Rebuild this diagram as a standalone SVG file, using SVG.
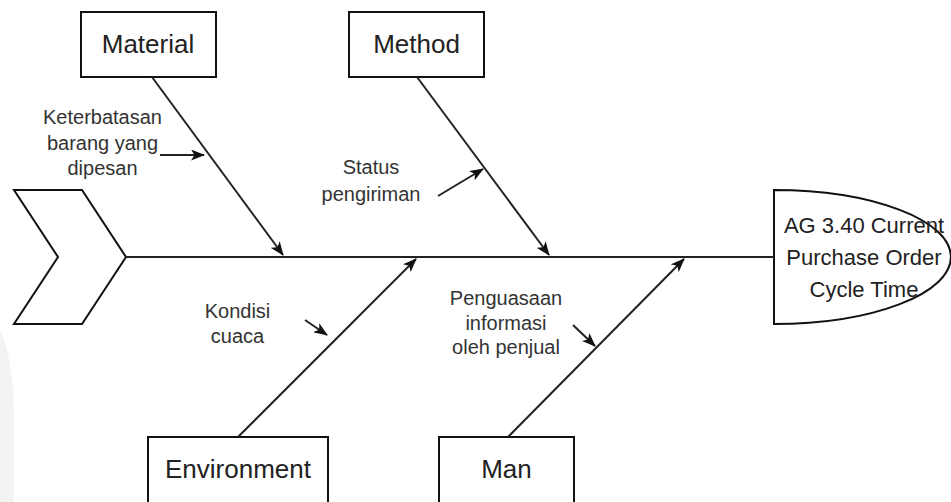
<svg xmlns="http://www.w3.org/2000/svg" width="951" height="502" viewBox="0 0 951 502">
<defs>
<style>
.box{fill:#fff;stroke:#111;stroke-width:2}
.ln{fill:none;stroke:#222;stroke-width:2}
.big{font-family:"Liberation Sans",Arial,sans-serif;font-size:26px;fill:#222;text-anchor:middle}
.mid{font-family:"Liberation Sans",Arial,sans-serif;font-size:22px;fill:#222;text-anchor:middle}
.sm{font-family:"Liberation Sans",Arial,sans-serif;font-size:20px;fill:#333;text-anchor:middle}
</style>
<marker id="ah" viewBox="0 0 14 11" refX="13" refY="5.5" markerWidth="14" markerHeight="11" markerUnits="userSpaceOnUse" orient="auto">
<path d="M0,0 L14,5.5 L0,11 L3.5,5.5 Z" fill="#111"/>
</marker>
</defs>
<rect width="951" height="502" fill="#fff"/>
<path d="M0,330 Q14,360 14,420 L14,502 L0,502 Z" fill="#f3f3f3"/>
<g id="tail">
<polygon class="box" points="14,190 82,190 126,257 82,324 14,324 58,257"/>
</g>
<g id="head">
<path class="box" d="M774,190 A177,67 0 0 1 774,324 Z"/>
<text class="mid" x="864" y="233">AG 3.40 Current</text>
<text class="mid" x="864" y="265">Purchase Order</text>
<text class="mid" x="864" y="297">Cycle Time</text>
</g>
<g id="material">
<rect class="box" x="81" y="12" width="135" height="65"/>
<text class="big" x="148" y="53">Material</text>
</g>
<g id="method">
<rect class="box" x="349" y="12" width="135" height="65"/>
<text class="big" x="416.5" y="53">Method</text>
</g>
<g id="environment">
<rect class="box" x="148" y="437" width="180" height="80"/>
<text class="big" x="238" y="478">Environment</text>
</g>
<g id="man">
<rect class="box" x="439" y="437" width="135" height="80"/>
<text class="big" x="506.5" y="478">Man</text>
</g>
<g id="labels">
<text class="sm" x="102.5" y="124">Keterbatasan</text>
<text class="sm" x="102.5" y="150">barang yang</text>
<text class="sm" x="102.5" y="175">dipesan</text>
<text class="sm" x="371" y="174">Status</text>
<text class="sm" x="371" y="201">pengiriman</text>
<text class="sm" x="237.5" y="318">Kondisi</text>
<text class="sm" x="237.5" y="343">cuaca</text>
<text class="sm" x="506" y="305">Penguasaan</text>
<text class="sm" x="506" y="330">informasi</text>
<text class="sm" x="506" y="354">oleh penjual</text>
</g>
<g id="connectors">
<line class="ln" x1="126" y1="257" x2="774" y2="257"/>
<line class="ln" x1="152" y1="77" x2="283" y2="255" marker-end="url(#ah)"/>
<line class="ln" x1="417" y1="77" x2="549" y2="255" marker-end="url(#ah)"/>
<line class="ln" x1="238" y1="437" x2="416" y2="259" marker-end="url(#ah)"/>
<line class="ln" x1="508" y1="437" x2="684" y2="259" marker-end="url(#ah)"/>
<line class="ln" x1="160" y1="155" x2="204" y2="155" marker-end="url(#ah)"/>
<line class="ln" x1="438" y1="196" x2="483" y2="169" marker-end="url(#ah)"/>
<line class="ln" x1="305" y1="320" x2="327" y2="335" marker-end="url(#ah)"/>
<line class="ln" x1="573" y1="325" x2="595" y2="346" marker-end="url(#ah)"/>
</g>
</svg>
